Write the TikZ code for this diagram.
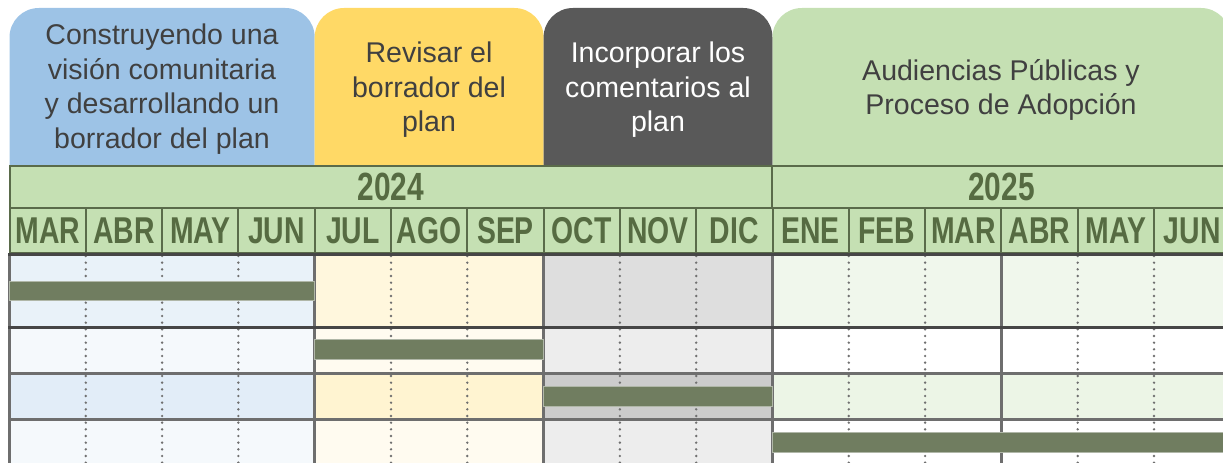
\documentclass[tikz,border=0pt]{standalone}
\usepackage{fontspec}
\setmainfont{Liberation Sans}
\usepackage{graphicx}
\usetikzlibrary{positioning}

\definecolor{tabblue}{HTML}{9DC3E6}
\definecolor{tabyellow}{HTML}{FFD966}
\definecolor{tabdark}{HTML}{595959}
\definecolor{tabgreen}{HTML}{C5E0B3}
\definecolor{tabtextgray}{HTML}{404040}
\definecolor{hdrgreen}{HTML}{C5E0B3}
\definecolor{hdrline}{HTML}{5A6B4A}
\definecolor{hdrtext}{HTML}{566B42}
\definecolor{barfill}{HTML}{707D60}
\definecolor{gridgray}{HTML}{6E6E6E}
\definecolor{griddark}{HTML}{464646}
\definecolor{dotgray}{HTML}{707070}

\newcommand{\narrow}[1]{\scalebox{0.76}[1]{#1}}

\begin{document}
\begin{tikzpicture}[x=0.75pt,y=-0.75pt]
		\tikzstyle{tabtext} = [align=center, text=tabtextgray, font=\fontsize{21.4}{25.9}\selectfont]
		\tikzstyle{year} = [draw=hdrline, fill=hdrgreen, line width=1.5pt, minimum height=31.5pt, inner sep=0pt, text=hdrtext, font=\fontsize{29.5}{30}\selectfont\bfseries]
		\tikzstyle{month} = [draw=hdrline, fill=hdrgreen, line width=1.5pt, minimum width=57.2pt, minimum height=33.75pt, inner sep=0pt, text=hdrtext, font=\fontsize{28}{28}\selectfont\bfseries]
		\tikzstyle{bar} = [fill=barfill, draw=barfill!55!white, line width=0.5pt]
		\tikzstyle{sect} = [draw=gridgray, line width=1.9pt]
		\tikzstyle{dots} = [draw=dotgray, line width=2pt, line cap=round, dash pattern=on 0pt off 5pt]

		\useasboundingbox (0,0) rectangle (1223,463);
		\clip (0,0) rectangle (1223,463);

		% tabs
		\fill[tabblue, rounded corners=22pt] (9.5,200) rectangle (314.7,8);
		\fill[tabyellow, rounded corners=22pt] (314.7,200) rectangle (543.6,8);
		\fill[tabdark, rounded corners=22pt] (543.6,200) rectangle (772.5,8);
		\fill[tabgreen, rounded corners=22pt] (772.5,200) rectangle (1230.3,8);
		\node [tabtext] (vision) at (162,89) {Construyendo una\\visión comunitaria\\y desarrollando un\\borrador del plan};
		\node [tabtext] (revisar) at (429,90) {Revisar el\\borrador del\\plan};
		\node [tabtext, text=white] (comentarios) at (658,90) {Incorporar los\\comentarios al\\plan};
		\node [tabtext] (audiencias) at (1001,90) {Audiencias Públicas y\\Proceso de Adopción};

		% years
		\node [year, minimum width=572.25pt] (y2024) at (391,187) {\narrow{2024}};
		\node [year, minimum width=343.4pt] (y2025) at (1001.4,187) {\narrow{2025}};

		% months
		\node [month] (m1) at (47.7,230.5) {\narrow{MAR}};
		\node [month] (m2) at (124.0,230.5) {\narrow{ABR}};
		\node [month] (m3) at (200.3,230.5) {\narrow{MAY}};
		\node [month] (m4) at (276.6,230.5) {\narrow{JUN}};
		\node [month] (m5) at (352.9,230.5) {\narrow{JUL}};
		\node [month] (m6) at (429.2,230.5) {\narrow{AGO}};
		\node [month] (m7) at (505.5,230.5) {\narrow{SEP}};
		\node [month] (m8) at (581.8,230.5) {\narrow{OCT}};
		\node [month] (m9) at (658.1,230.5) {\narrow{NOV}};
		\node [month] (m10) at (734.4,230.5) {\narrow{DIC}};
		\node [month] (m11) at (810.7,230.5) {\narrow{ENE}};
		\node [month] (m12) at (887.0,230.5) {\narrow{FEB}};
		\node [month] (m13) at (963.3,230.5) {\narrow{MAR}};
		\node [month] (m14) at (1039.6,230.5) {\narrow{ABR}};
		\node [month] (m15) at (1115.9,230.5) {\narrow{MAY}};
		\node [month] (m16) at (1192.2,230.5) {\narrow{JUN}};

		% row backgrounds
		\fill[tabblue!22!white] (9.5,254) rectangle (314.7,327);
		\fill[tabblue!10!white] (9.5,327) rectangle (314.7,373);
		\fill[tabblue!30!white] (9.5,373) rectangle (314.7,419);
		\fill[tabblue!10!white] (9.5,419) rectangle (314.7,470);
		\fill[tabyellow!22!white] (314.7,254) rectangle (543.6,327);
		\fill[tabyellow!10!white] (314.7,327) rectangle (543.6,373);
		\fill[tabyellow!30!white] (314.7,373) rectangle (543.6,419);
		\fill[tabyellow!10!white] (314.7,419) rectangle (543.6,470);
		\fill[black!13] (543.6,254) rectangle (772.5,327);
		\fill[black!7] (543.6,327) rectangle (772.5,373);
		\fill[black!20] (543.6,373) rectangle (772.5,419);
		\fill[black!7] (543.6,419) rectangle (772.5,470);
		\fill[tabgreen!25!white] (772.5,254) rectangle (1230.3,327);
		\fill[white] (772.5,327) rectangle (1230.3,373);
		\fill[tabgreen!33!white] (772.5,373) rectangle (1230.3,419);
		\fill[white] (772.5,419) rectangle (1230.3,470);

		% month dividers
		\draw[dots] (85.8,256) -- (85.8,470);
		\draw[dots] (162.1,256) -- (162.1,470);
		\draw[dots] (238.4,256) -- (238.4,470);
		\draw[dots] (391.0,256) -- (391.0,470);
		\draw[dots] (467.3,256) -- (467.3,470);
		\draw[dots] (619.9,256) -- (619.9,470);
		\draw[dots] (696.2,256) -- (696.2,470);
		\draw[dots] (848.8,256) -- (848.8,470);
		\draw[dots] (925.1,256) -- (925.1,470);
		\draw[dots] (1077.7,256) -- (1077.7,470);
		\draw[dots] (1154.0,256) -- (1154.0,470);

		% section dividers
		\draw[sect] (9.5,254) -- (9.5,470);
		\draw[sect] (314.7,254) -- (314.7,470);
		\draw[sect] (543.6,254) -- (543.6,470);
		\draw[sect] (772.5,254) -- (772.5,470);
		\draw[sect] (1001.4,254) -- (1001.4,470);

		% rows
		\draw[griddark, line width=2.25pt] (8,254) -- (1230.3,254);
		\draw[griddark, line width=2.25pt] (8,327) -- (1230.3,327);
		\draw[gridgray, line width=2.25pt] (8,373) -- (1230.3,373);
		\draw[gridgray, line width=2.25pt] (8,419) -- (1230.3,419);

		% bars
		\fill[bar] (9.5,281) rectangle (314.7,300);
		\fill[bar] (314.7,339) rectangle (543.6,359);
		\fill[bar] (543.6,386) rectangle (772.5,406);
		\fill[bar] (772.5,432) rectangle (1230.3,452);
		%\fill[bar] (1001.4,432) rectangle (1230.3,452);
	\end{tikzpicture}
\end{document}
